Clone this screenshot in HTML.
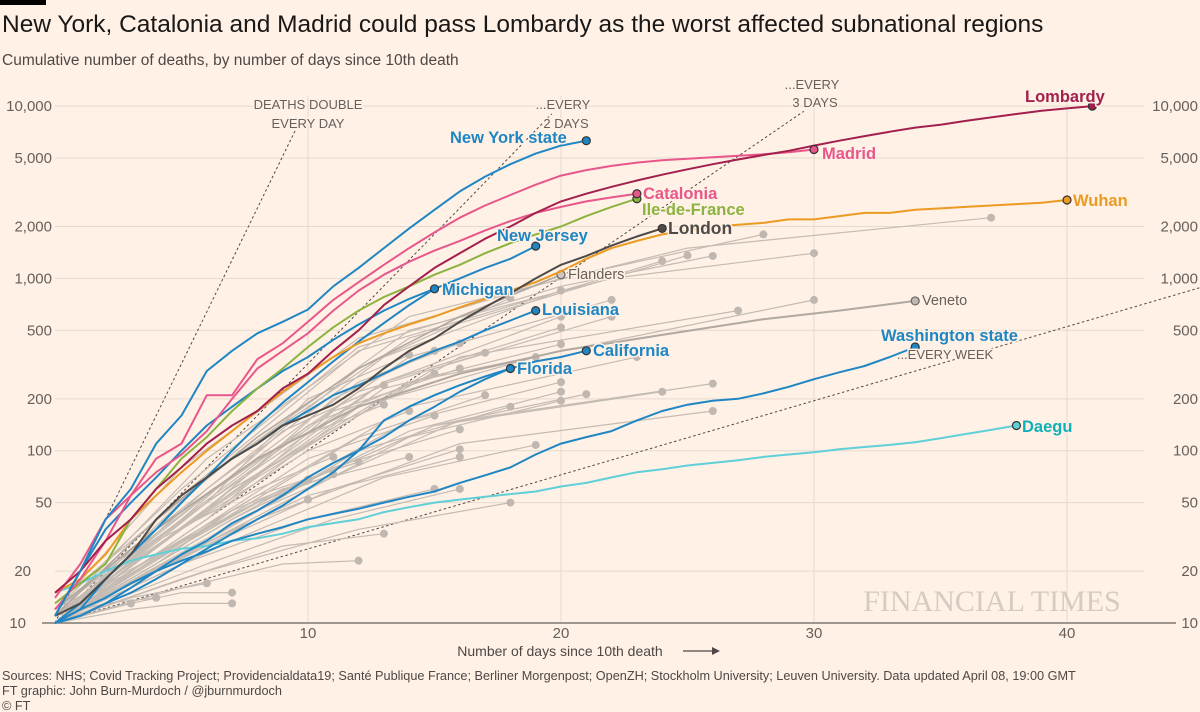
<!DOCTYPE html>
<html><head><meta charset="utf-8"><style>
body{margin:0;background:#fff1e5;}
svg{display:block;font-family:"Liberation Sans",sans-serif;}
.lbl{font-weight:bold;paint-order:stroke;stroke:#fff1e5;stroke-width:3px;stroke-linejoin:round;}
</style></head><body>
<svg id="c" width="1200" height="712" viewBox="0 0 1200 712">
<rect x="0" y="0" width="1200" height="712" fill="#fff1e5"/>
<rect x="0" y="0" width="46" height="5" fill="#000"/>
<text x="2" y="32" font-size="24.5" fill="#1a1817">New York, Catalonia and Madrid could pass Lombardy as the worst affected subnational regions</text>
<text x="2" y="65" font-size="15.5" fill="#4d4845">Cumulative number of deaths, by number of days since 10th death</text>
<g id="grid"></g>
<g id="refs"></g>
<g id="greys"></g>
<g id="series"></g>
<g id="labels"></g>
<text x="992" y="611" font-family="Liberation Serif,serif" font-size="30" fill="#d6cbc1" text-anchor="middle">FINANCIAL TIMES</text>
<text x="560" y="656" font-size="14" fill="#4d4845" text-anchor="middle">Number of days since 10th death</text>
<line x1="683" y1="651" x2="716" y2="651" stroke="#4d4845" stroke-width="1.3"/>
<path d="M712,647 L720,651 L712,655 Z" fill="#4d4845"/>
<text x="2" y="680" font-size="12.7" fill="#4d4845">Sources: NHS; Covid Tracking Project; Providencialdata19; Santé Publique France; Berliner Morgenpost; OpenZH; Stockholm University; Leuven University. Data updated April 08, 19:00 GMT</text>
<text x="2" y="695" font-size="12.7" fill="#4d4845">FT graphic: John Burn-Murdoch / @jburnmurdoch</text>
<text x="2" y="710" font-size="12.7" fill="#4d4845">© FT</text>
</svg>
<script>
const yTicks=[10,20,50,100,200,500,1000,2000,5000,10000];
const yTickLabels=["10","20","50","100","200","500","1,000","2,000","5,000","10,000"];
const xTicks=[10,20,30,40];
const refDoubling=[1,2,3,7];
const nyState=[11,20,40,60,110,160,290,380,480,560,660,900,1150,1500,1950,2500,3200,3900,4600,5300,5900,6300];
const madrid=[14,22,40,55,90,110,210,210,340,420,560,750,950,1200,1500,1850,2250,2650,3050,3500,3950,4250,4500,4700,4850,4950,5050,5150,5250,5400,5600];
const catalonia=[12,18,30,55,75,95,130,200,300,380,480,650,850,1050,1250,1450,1650,1900,2150,2400,2600,2800,2950,3100];
const ileDeFrance=[13,17,22,40,60,90,120,170,230,300,400,520,650,780,900,1050,1200,1400,1600,1800,2000,2300,2600,2900];
const lombardy=[15,20,30,40,60,80,110,140,170,230,280,380,500,700,900,1150,1400,1700,2000,2400,2800,3100,3400,3700,4000,4300,4600,4900,5200,5500,5900,6300,6700,7100,7500,7800,8200,8600,9000,9400,9700,10000];
const london=[11,13,18,25,40,55,70,90,110,140,160,185,230,300,380,450,560,680,820,1000,1200,1350,1550,1750,1950];
const wuhan=[15,18,25,40,55,75,100,130,170,220,280,350,420,480,540,600,680,760,850,950,1100,1300,1500,1650,1800,1900,2000,2050,2100,2200,2200,2300,2400,2400,2500,2550,2600,2650,2700,2750,2850];
const newJersey=[11,20,35,50,70,100,140,180,230,290,350,440,540,650,760,870,1000,1150,1300,1540];
const michigan=[10,13,18,25,35,50,70,100,140,190,250,330,430,550,700,870];
const louisiana=[10,12,18,25,35,50,70,90,110,140,170,210,240,280,330,380,430,500,570,650];
const california=[10,11,13,16,20,25,30,38,45,55,70,85,100,120,150,180,220,260,300,330,350,380];
const florida=[10,11,13,15,18,22,27,33,40,48,60,75,100,150,180,210,240,270,300];
const washington=[10,12,14,17,20,23,26,30,33,36,40,43,46,50,54,58,65,72,80,95,110,120,130,150,170,185,195,200,215,235,260,285,310,350,400];
const daegu=[15,17,20,23,25,27,28,30,31,33,36,38,40,44,47,50,52,54,56,58,62,65,70,75,78,82,85,88,92,95,98,102,105,108,112,118,125,132,140];
const flanders=[[0,11],[4,40],[8,120],[12,300],[16,600],[20,1050]];
const veneto=[[0,12],[4,35],[8,90],[12,180],[16,280],[20,380],[24,470],[28,580],[31,650],[34,740]];
const greyRegions=[
[[0,12],[5,80],[12,450],[20,1000],[28,1800]],
[[0,11],[6,90],[14,600],[25,1500],[37,2250]],
[[0,10],[6,70],[14,500],[22,1000],[30,1400]],
[[0,12],[5,60],[12,400],[20,900],[26,1350]],
[[0,11],[5,55],[12,380],[24,1260]],
[[0,13],[7,90],[14,450],[25,1360]],
[[0,10],[6,60],[13,350],[20,850]],
[[0,11],[6,55],[14,350],[22,750]],
[[0,12],[6,60],[12,300],[18,770]],
[[0,10],[7,60],[16,350],[27,650]],
[[0,11],[8,70],[15,300],[22,600]],
[[0,10],[6,45],[13,250],[20,600]],
[[0,12],[6,50],[13,250],[20,520]],
[[0,10],[7,60],[14,250],[30,750]],
[[0,11],[6,45],[13,230],[20,415]],
[[0,10],[6,50],[12,220],[17,370]],
[[0,12],[6,55],[12,250],[16,420]],
[[0,10],[6,45],[11,200],[15,380]],
[[0,11],[6,50],[10,200],[14,360]],
[[0,10],[6,40],[12,180],[19,350]],
[[0,10],[7,45],[14,180],[23,350]],
[[0,10],[5,35],[10,140],[15,280]],
[[0,10],[6,40],[11,170],[16,300]],
[[0,11],[5,40],[9,130],[13,240]],
[[0,10],[7,40],[14,150],[20,250]],
[[0,10],[8,45],[16,150],[26,245]],
[[0,11],[8,50],[15,140],[24,220]],
[[0,10],[7,40],[14,130],[20,220]],
[[0,10],[6,35],[12,120],[17,210]],
[[0,12],[8,50],[15,140],[21,213]],
[[0,10],[7,35],[14,120],[20,195]],
[[0,10],[6,30],[12,100],[18,180]],
[[0,10],[5,40],[9,110],[13,185]],
[[0,11],[5,35],[10,100],[14,170]],
[[0,10],[5,30],[10,90],[15,160]],
[[0,10],[8,40],[16,110],[26,170]],
[[0,10],[6,30],[11,80],[16,133]],
[[0,10],[7,30],[13,70],[19,108]],
[[0,10],[6,28],[11,60],[16,102]],
[[0,11],[5,30],[9,60],[14,92]],
[[0,10],[4,30],[8,60],[11,92]],
[[0,10],[5,25],[10,55],[16,92]],
[[0,10],[4,25],[8,55],[12,86]],
[[0,10],[4,25],[8,50],[11,73]],
[[0,10],[4,22],[7,45],[10,68]],
[[0,10],[5,22],[10,40],[15,60]],
[[0,10],[6,22],[11,40],[16,60]],
[[0,10],[4,20],[7,35],[10,52]],
[[0,10],[6,20],[12,35],[18,50]],
[[0,10],[5,16],[9,22],[12,23]],
[[0,10],[5,18],[9,28],[13,33]],
[[0,10],[3,12],[5,13],[7,13]],
[[0,10],[3,13],[5,15],[7,15]],
[[0,10],[3,14],[6,17]],
[[0,11],[2,13],[4,14]],
[[0,10],[2,12],[3,13]]
];
const NS='http://www.w3.org/2000/svg';
const X0=55,PXD=25.3,Y10=623,PXDEC=172.3;
function xs(d){return X0+d*PXD;}
function ys(v){return Y10-PXDEC*Math.log10(v/10);}
function mk(tag,attrs,parent){const e=document.createElementNS(NS,tag);for(const k in attrs)e.setAttribute(k,attrs[k]);parent.appendChild(e);return e;}
const grid=document.getElementById('grid');
yTicks.forEach((t,i)=>{
  const y=ys(t);
  if(i>0){const l=mk('line',{x1:55,x2:1144,y1:y,y2:y,stroke:'#e6d9ce','stroke-width':1},grid);
  
  }
  const a=mk('text',{x:i<2?(i==0?26:31):52,y:y+5,'font-size':15,fill:'#66605c','text-anchor':'end'},grid);a.textContent=yTickLabels[i];
  
  
  const b=mk('text',{x:1198,y:y+5,'font-size':15,fill:'#66605c','text-anchor':'end'},grid);b.textContent=yTickLabels[i];
  
  
});
xTicks.forEach(t=>{
  const x=xs(t);
  const l=mk('line',{x1:x,x2:x,y1:96,y2:623,stroke:'#e6d9ce','stroke-width':1},grid);
  
  
  const a=mk('text',{x:x,y:638,'font-size':15,fill:'#66605c','text-anchor':'middle'},grid);a.textContent=t;
  
  
});
const ax=mk('line',{x1:42,x2:1176,y1:623,y2:623,stroke:'#66605c','stroke-width':1.3},grid);


const refs=document.getElementById('refs');
refDoubling.forEach(n=>{
  const dEnd=n*Math.log2(1000);
  const endD=Math.min(dEnd-0.3,45.3);
  const v=10*Math.pow(2,endD/n);
  const l=mk('line',{x1:xs(0),y1:ys(10),x2:xs(endD),y2:ys(v),stroke:'#4d4845','stroke-width':1,'stroke-dasharray':'2.5,2.5'},refs);
  
  
});
function line(pts,color,w,name,parent){
  const d=pts.map((p,i)=>(i?'L':'M')+xs(p[0]).toFixed(1)+','+ys(p[1]).toFixed(1)).join('');
  const p=mk('path',{d:d,fill:'none',stroke:color,'stroke-width':w,'stroke-linejoin':'round'},parent);
  
  
}
function dot(pt,fill,stroke,name,parent){
  const c=mk('circle',{cx:xs(pt[0]),cy:ys(pt[1]),r:4,fill:fill,stroke:stroke,'stroke-width':stroke=='none'?0:1.2},parent);
  
  
}
const greys=document.getElementById('greys');
greyRegions.forEach(s=>{line(s,'#c4bbb3',1.2,'grey-region-line',greys);dot(s[s.length-1],'#bfb7b0','none','grey-region-end',greys);});
line(flanders,'#b0a8a1',1.6,'flanders-line',greys);
line(veneto,'#b0a8a1',2,'veneto-line',greys);
dot(flanders[flanders.length-1],'#cfc6be','#6b6460','flanders-end',greys);
dot(veneto[veneto.length-1],'#bfb7b0','#6b6460','veneto-end',greys);
const ser=document.getElementById('series');
const series=[
 [daegu,'#5fcfd8','daegu'],[washington,'#1f86c4','washington-state'],[florida,'#1f86c4','florida'],[california,'#1f86c4','california'],
 [louisiana,'#1f86c4','louisiana'],[michigan,'#1f86c4','michigan'],[wuhan,'#eb9a22','wuhan'],[london,'#4e4a47','london'],
 [newJersey,'#1f86c4','new-jersey'],[ileDeFrance,'#8cb33f','ile-de-france'],[catalonia,'#e8578b','catalonia'],
 [madrid,'#e8578b','madrid'],[lombardy,'#a2204e','lombardy'],[nyState,'#1f86c4','new-york-state']];
series.forEach(s=>{
  const pts=s[0].map((v,i)=>[i,v]);
  line(pts,s[1],2,s[2]+'-line',ser);
});
series.forEach(s=>{
  const last=[s[0].length-1,s[0][s[0].length-1]];
  dot(last,s[1],'#333',s[2]+'-end',ser);
});
const labs=document.getElementById('labels');
const labelDefs=[
 ['Lombardy',1025,102,'#a2204e',16.5,'lombardy-label'],
 ['New York state',450,143,'#1f86c4',16.5,'new-york-state-label'],
 ['Madrid',822,159,'#e8578b',16.5,'madrid-label'],
 ['Catalonia',643,199,'#e8578b',16.5,'catalonia-label'],
 ['Ile-de-France',642,215,'#8cb33f',16.5,'ile-de-france-label'],
 ['London',668,234,'#4e4a47',17.5,'london-label'],
 ['Wuhan',1073,206,'#eb9a22',16.5,'wuhan-label'],
 ['New Jersey',497,241,'#1f86c4',16.5,'new-jersey-label'],
 ['Michigan',442,295,'#1f86c4',16.5,'michigan-label'],
 ['Louisiana',542,315,'#1f86c4',16.5,'louisiana-label'],
 ['Washington state',881,341,'#1f86c4',16.5,'washington-state-label'],
 ['California',593,356,'#1f86c4',16.5,'california-label'],
 ['Florida',517,374,'#1f86c4',16.5,'florida-label'],
 ['Daegu',1022,432,'#10b0b8',16.5,'daegu-label']];
labelDefs.forEach(l=>{
  const t=mk('text',{x:l[1],y:l[2],fill:l[3],'font-size':l[4],class:'lbl'},labs);t.textContent=l[0];
  
  
});
const plain=[['Flanders',568,279,14.5,'start','flanders-label'],['Veneto',922,305,14.5,'start','veneto-label'],
 ['DEATHS DOUBLE',308,109,13,'middle','ref-label-day'],['EVERY DAY',308,128,13,'middle','ref-label-day-2'],
 ['...EVERY',563,109,13,'middle','ref-label-2days'],['2 DAYS',566,128,13,'middle','ref-label-2days-2'],
 ['...EVERY',812,89,13,'middle','ref-label-3days'],['3 DAYS',815,107,13,'middle','ref-label-3days-2'],
 ['...EVERY WEEK',945,359,13,'middle','ref-label-week']];
plain.forEach(l=>{
  const t=mk('text',{x:l[1],y:l[2],fill:'#66605c','font-size':l[3],'text-anchor':l[4],class:'lbl',style:'font-weight:normal'},labs);t.textContent=l[0];
  
  
});
</script>
</body></html>
